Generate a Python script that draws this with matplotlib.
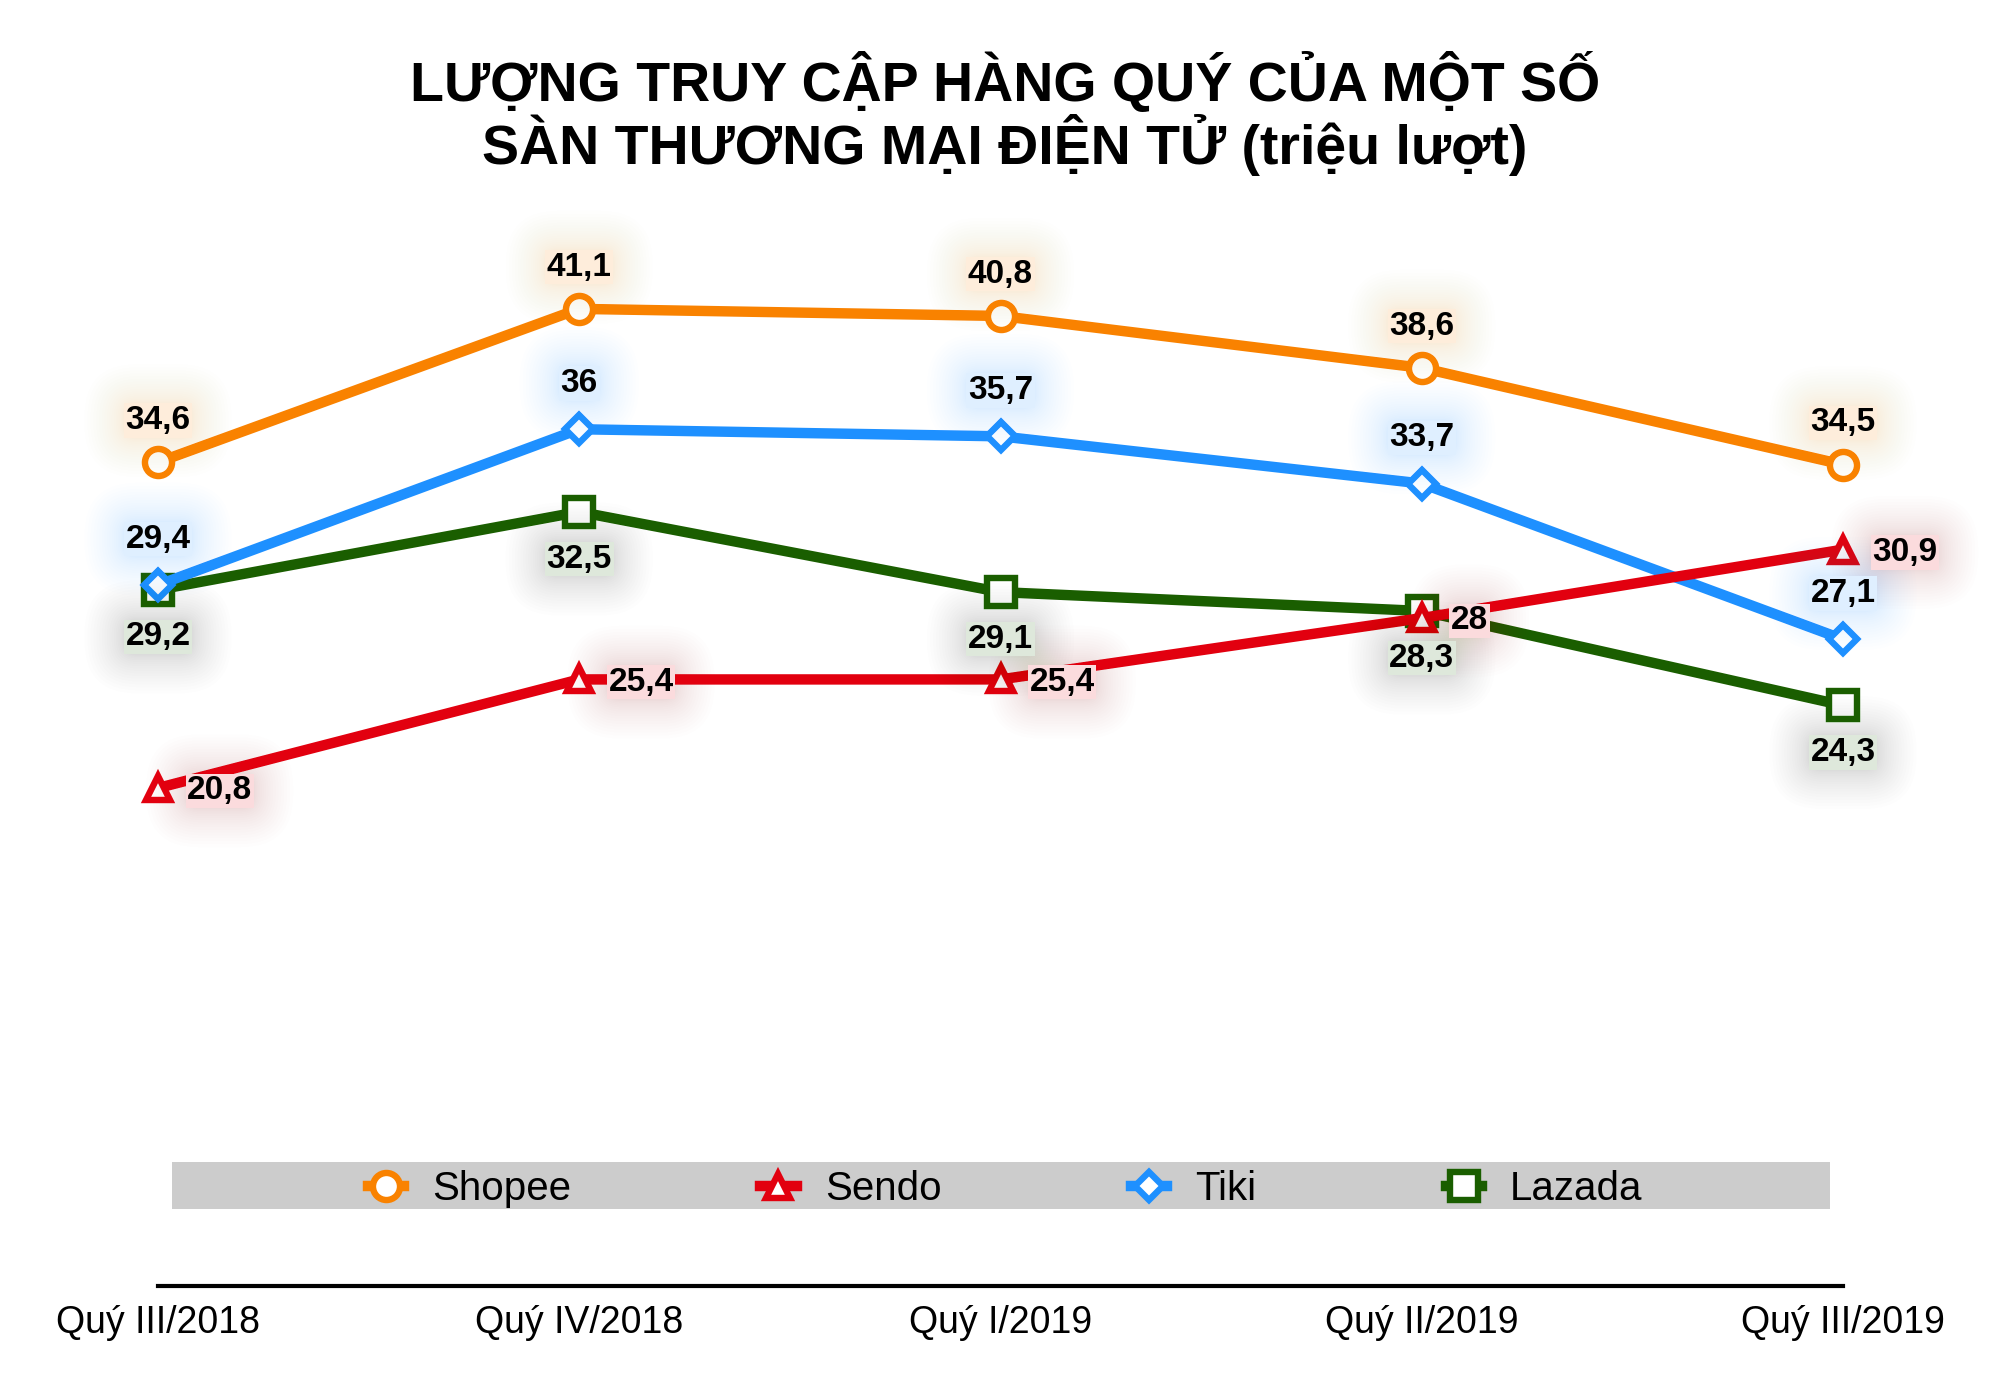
import matplotlib
matplotlib.use('Agg')
import numpy as np
import matplotlib.pyplot as plt
from matplotlib.colors import to_rgb
from matplotlib.patches import Rectangle

plt.rcParams['font.family'] = ['Liberation Sans', 'DejaVu Sans']

quarters = ['Quý III/2018', 'Quý IV/2018', 'Quý I/2019', 'Quý II/2019', 'Quý III/2019']
series_names = ['Shopee', 'Sendo', 'Tiki', 'Lazada']
shopee = [34.6, 41.1, 40.8, 38.6, 34.5]
sendo = [20.8, 25.4, 25.4, 28.0, 30.9]
tiki = [29.4, 36.0, 35.7, 33.7, 27.1]
lazada = [29.2, 32.5, 29.1, 28.3, 24.3]

title_1 = 'LƯỢNG TRUY CẬP HÀNG QUÝ CỦA MỘT SỐ'
title_2 = 'SÀN THƯƠNG MẠI ĐIỆN TỬ (triệu lượt)'

# name, values, color, marker, markersize, label position, zorder
styles = [
    ('Shopee', shopee, '#F98200', 'o', 19.5, 'above', 3.6),
    ('Sendo', sendo, '#E2000F', '^', 17, 'right', 3.4),
    ('Tiki', tiki, '#1E90FF', 'D', 14, 'above2', 3.2),
    ('Lazada', lazada, '#1A5E00', 's', 19.5, 'below', 3.0),
]
offsets = {'above': (0, 30, 'center'), 'above2': (0, 33, 'center'),
           'below': (0, -34, 'center'), 'right': (21, -2, 'left')}
label_size = 24

fig = plt.figure(figsize=(20, 13.88), dpi=100)
ax = fig.add_axes([0.079, 1 - 1286 / 1388, 0.8425, 0.7873])
ax.patch.set_visible(False)

x = np.arange(len(quarters))


def glow_label(ax, text, xv, yv, dx, dy, ha, color):
    n = 18
    a = 0.0085
    for i in range(n):
        pad = 0.08 + 1.15 * (i / (n - 1)) ** 1.4
        ax.annotate(text, (xv, yv), xytext=(dx, dy), textcoords='offset points',
                    ha=ha, va='center', fontsize=label_size, fontweight='bold', color='none',
                    bbox=dict(boxstyle=f'round,pad={pad:.3f},rounding_size={pad + 0.35:.3f}',
                              fc=color, ec='none', alpha=a),
                    zorder=6, annotation_clip=False)
    w = 1 - (1 - a) ** n
    c = np.array(to_rgb(color))
    fc = tuple(1 - w + w * c)
    ax.annotate(text, (xv, yv), xytext=(dx, dy), textcoords='offset points',
                ha=ha, va='center', fontsize=label_size, fontweight='bold', color='black',
                bbox=dict(boxstyle='square,pad=0.05', fc=fc, ec='none'),
                zorder=7, annotation_clip=False)


handles = {}
for name, vals, color, mk, ms, pos, z in styles:
    ln, = ax.plot(x, vals, color=color, lw=7.5, marker=mk, ms=ms, mfc='white',
                  mec=color, mew=4.6, zorder=z, clip_on=False, label=name)
    handles[name] = ln
    dx, dy, ha = offsets[pos]
    for xi, v in zip(x, vals):
        txt = f'{v:g}'.replace('.', ',')
        glow_label(ax, txt, xi, v, dx, dy, ha, color)

ax.set_xlim(0, 4)
ax.set_ylim(-0.3, 46)
ax.set_yticks([])
ax.set_xticks(x, quarters)
ax.tick_params(axis='x', length=0, pad=14, labelsize=27)
for s in ['top', 'left', 'right']:
    ax.spines[s].set_visible(False)
ax.spines['bottom'].set_linewidth(3)

# legend band
ax.add_patch(Rectangle((172 / 2000, 1 - 1209 / 1388), 1658 / 2000, 47 / 1388,
                       transform=fig.transFigure, fc='#cccccc', ec='none',
                       zorder=0, clip_on=False))
fig.legend([handles[n] for n in series_names], series_names, loc='center',
           bbox_to_anchor=(0.5025, 1 - 1189 / 1388), ncol=4, frameon=False,
           fontsize=29, handlelength=0.9, handletextpad=0.7, columnspacing=4.7)

fig.text(0.5025, 1 - 101 / 1388, title_1, ha='center', va='baseline',
         fontsize=40, fontweight='bold')
fig.text(0.5025, 1 - 164 / 1388, title_2, ha='center', va='baseline',
         fontsize=40, fontweight='bold')

fig.savefig('out.png', dpi=100)
